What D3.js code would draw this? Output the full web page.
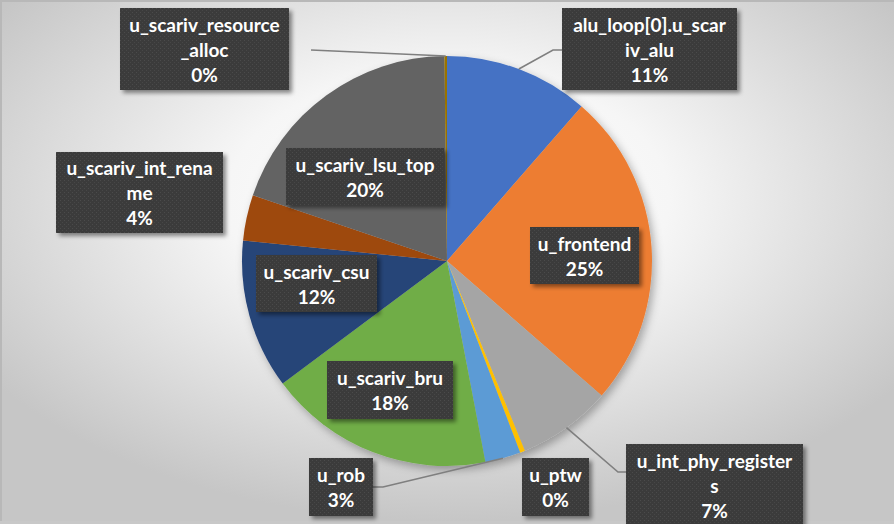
<!DOCTYPE html>
<meta charset="utf-8">
<style>
  body { margin: 0; background: #c4c4c4; }
  svg { display: block; }
</style>

<script src="https://d3js.org/d3.v7.min.js"></script>

<div id="my_dataviz"></div>

<script>

// data (percent of total)
var names  = ["alu_loop[0].u_scariv_alu", "u_frontend", "u_int_phy_registers", "u_ptw",
              "u_rob", "u_scariv_bru", "u_scariv_csu", "u_scariv_int_rename",
              "u_scariv_lsu_top", "u_scariv_resource_alloc"];
var values = [11.4, 25.0, 7.4, 0.4, 2.8, 17.8, 11.8, 3.6, 19.6, 0.2];
var colors = ["#4472C4", "#ED7D31", "#A5A5A5", "#FFC000", "#5B9BD5",
              "#70AD47", "#264478", "#9E480E", "#636363", "#997300"];

// where each data label box sits, and where its name wraps
var labelBoxes = {
  "alu_loop[0].u_scariv_alu": {x: 562, y: 8,   w: 175, h: 82, cut: 18, lead: {side: "left",  s0: 0,  s1: 9,  ly: 42}},
  "u_frontend":               {x: 530, y: 227, w: 109, h: 57},
  "u_int_phy_registers":      {x: 626, y: 444, w: 177, h: 82, cut: 18, lead: {side: "left",  s0: 0,  s1: 8,  ly: 28}},
  "u_ptw":                    {x: 522, y: 458, w: 67,  h: 58},
  "u_rob":                    {x: 309, y: 458, w: 64,  h: 58, lead: {side: "right", s0: 0,  s1: 10, ly: 29}},
  "u_scariv_bru":             {x: 327, y: 361, w: 126, h: 58},
  "u_scariv_csu":             {x: 256, y: 255, w: 121, h: 57},
  "u_scariv_int_rename":      {x: 56,  y: 152, w: 167, h: 81, cut: 17},
  "u_scariv_lsu_top":         {x: 286, y: 148, w: 158, h: 57},
  "u_scariv_resource_alloc":  {x: 120, y: 8,   w: 169, h: 82, cut: 17, lead: {side: "right", s0: 22, s1: 22, ly: 42}}
};

var width = 894, height = 524;
var cx = 447, cy = 261, radius = 205;

var svg = d3.select("#my_dataviz")
  .append("svg")
    .attr("width", width)
    .attr("height", height);

var defs = svg.append("defs");

// chart area background: radial gradient white -> gray
var grad = defs.append("radialGradient")
    .attr("id", "bg")
    .attr("cx", 0.5).attr("cy", 0.38).attr("r", 0.62);
grad.append("stop").attr("offset", 0).attr("stop-color", "#ffffff");
grad.append("stop").attr("offset", 0.4).attr("stop-color", "#f6f6f6");
grad.append("stop").attr("offset", 1).attr("stop-color", "#c6c6c6");

// dotted dark fill of the labels
var pat = defs.append("pattern")
    .attr("id", "dots")
    .attr("width", 4).attr("height", 4)
    .attr("patternUnits", "userSpaceOnUse");
pat.append("rect").attr("width", 4).attr("height", 4).attr("fill", "#3a3a3a");
pat.append("rect").attr("x", 0).attr("y", 0).attr("width", 1).attr("height", 1).attr("fill", "#4c4c4c");
pat.append("rect").attr("x", 2).attr("y", 2).attr("width", 1).attr("height", 1).attr("fill", "#464646");

var pieShadow = defs.append("filter").attr("id", "pieShadow")
    .attr("x", "-10%").attr("y", "-10%").attr("width", "125%").attr("height", "125%");
pieShadow.append("feDropShadow")
    .attr("dx", 3).attr("dy", 4).attr("stdDeviation", 4)
    .attr("flood-color", "#000").attr("flood-opacity", 0.3);

var boxShadow = defs.append("filter").attr("id", "boxShadow")
    .attr("x", "-10%").attr("y", "-10%").attr("width", "130%").attr("height", "130%");
boxShadow.append("feDropShadow")
    .attr("dx", 3).attr("dy", 3).attr("stdDeviation", 2)
    .attr("flood-color", "#000").attr("flood-opacity", 0.45);

// outer frame and chart area
svg.append("rect")
    .attr("width", width).attr("height", height)
    .attr("fill", "#b8b8b8");
svg.append("rect")
    .attr("x", 2).attr("y", 2)
    .attr("width", width - 2).attr("height", 519)
    .attr("fill", "url(#bg)");
svg.append("rect")
    .attr("x", 0).attr("y", 521)
    .attr("width", width).attr("height", 3)
    .attr("fill", "#c8c8c8");

// pie
var pie = d3.pie().sort(null).value(function(d) { return d.value; });
var arc = d3.arc().innerRadius(0).outerRadius(radius);

var data = names.map(function(n, i) { return {name: n, value: values[i], color: colors[i]}; });
var arcs = pie(data);
var total = d3.sum(values);

var g = svg.append("g")
    .attr("transform", "translate(" + cx + "," + cy + ")")
    .attr("filter", "url(#pieShadow)");

g.selectAll("path")
  .data(arcs)
  .enter()
  .append("path")
    .attr("d", arc)
    .attr("fill", function(d) { return d.data.color; });

// leader lines, ending on the rim at the slice middle
var leaders = svg.append("g");
arcs.forEach(function(d) {
  var b = labelBoxes[d.data.name];
  if (!b.lead) return;
  var mid = (d.startAngle + d.endAngle) / 2;
  var px = cx + radius * Math.sin(mid),
      py = cy - radius * Math.cos(mid);
  var ly = b.y + b.lead.ly;
  var edge = b.lead.side === "left" ? b.x : b.x + b.w;
  var dir = b.lead.side === "left" ? -1 : 1;
  var pts = [[edge + dir * b.lead.s0, ly], [edge + dir * b.lead.s1, ly], [px, py]];
  leaders.append("path")
      .attr("d", d3.line()(pts))
      .attr("fill", "none")
      .attr("stroke", "#7f7f7f")
      .attr("stroke-width", 1.6);
});

// data labels
var labels = svg.append("g");
arcs.forEach(function(d) {
  var b = labelBoxes[d.data.name];
  var name = d.data.name;
  var lines = b.cut ? [name.slice(0, b.cut), name.slice(b.cut)] : [name];
  lines.push(Math.round(d.data.value / total * 100) + "%");

  labels.append("rect")
      .attr("x", b.x).attr("y", b.y)
      .attr("width", b.w).attr("height", b.h)
      .attr("fill", "url(#dots)")
      .attr("filter", "url(#boxShadow)");

  var mid = b.y + b.h / 2 + 1;
  var t = labels.append("text")
      .attr("text-anchor", "middle")
      .style("font-family", "Lato, 'Open Sans', sans-serif")
      .style("font-weight", "bold")
      .style("font-size", "19px")
      .attr("fill", "#ffffff");
  lines.forEach(function(s, i) {
    t.append("tspan")
        .attr("x", b.x + b.w / 2)
        .attr("y", mid + (i - (lines.length - 1) / 2) * 25)
        .attr("dy", "0.35em")
        .text(s);
  });
});

</script>
